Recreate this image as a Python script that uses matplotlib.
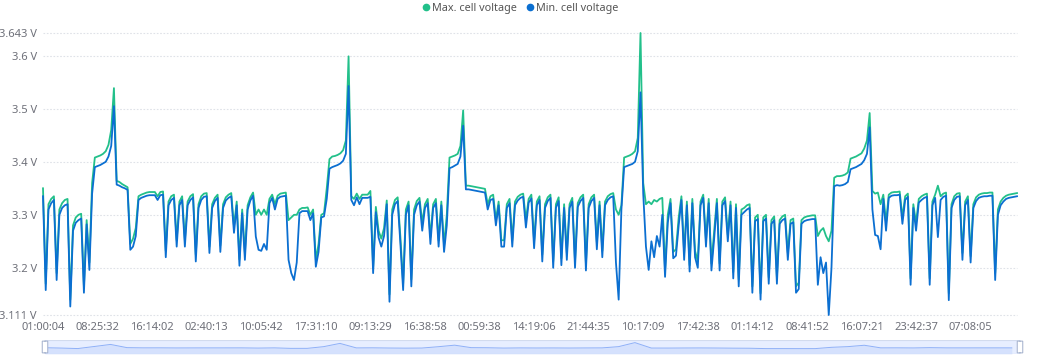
import numpy as np
import matplotlib
matplotlib.use('Agg')
import matplotlib.pyplot as plt
from matplotlib.lines import Line2D
from matplotlib.patches import Rectangle, FancyBboxPatch

# x轴时间标签（每20个采样点一个）
time_labels = ['01:00:04', '08:25:32', '16:14:02', '02:40:13', '10:05:42', '17:31:10',
               '09:13:29', '16:38:58', '00:59:38', '14:19:06', '21:44:35', '10:17:09',
               '17:42:38', '01:14:12', '08:41:52', '16:07:21', '23:42:37', '07:08:05']
label_step = 20

# 最高单体电压 (V)
max_cell_v = [
    3.350, 3.170, 3.320, 3.330, 3.335, 3.190, 3.310, 3.322, 3.328, 3.330,
    3.140, 3.280, 3.295, 3.300, 3.302, 3.165, 3.290, 3.210, 3.360, 3.408,
    3.410, 3.412, 3.415, 3.420, 3.432, 3.460, 3.539, 3.364, 3.362, 3.358,
    3.355, 3.352, 3.245, 3.255, 3.275, 3.335, 3.338, 3.340, 3.342, 3.343,
    3.343, 3.343, 3.335, 3.343, 3.344, 3.232, 3.325, 3.335, 3.338, 3.252,
    3.325, 3.335, 3.252, 3.325, 3.335, 3.339, 3.225, 3.320, 3.335, 3.340,
    3.341, 3.240, 3.320, 3.332, 3.338, 3.242, 3.320, 3.333, 3.338, 3.341,
    3.278, 3.325, 3.216, 3.310, 3.228, 3.318, 3.333, 3.342, 3.300, 3.310,
    3.300, 3.310, 3.300, 3.330, 3.338, 3.320, 3.336, 3.340, 3.341, 3.342,
    3.290, 3.295, 3.300, 3.300, 3.310, 3.313, 3.313, 3.314, 3.300, 3.310,
    3.215, 3.245, 3.300, 3.303, 3.350, 3.405, 3.410, 3.411, 3.413, 3.416,
    3.422, 3.440, 3.599, 3.335, 3.330, 3.340, 3.330, 3.338, 3.338, 3.338,
    3.345, 3.200, 3.315, 3.270, 3.255, 3.275, 3.327, 3.150, 3.310, 3.328,
    3.333, 3.258, 3.170, 3.310, 3.325, 3.178, 3.310, 3.326, 3.332, 3.285,
    3.320, 3.330, 3.258, 3.320, 3.330, 3.252, 3.325, 3.242, 3.300, 3.408,
    3.410, 3.412, 3.415, 3.430, 3.497, 3.355, 3.355, 3.354, 3.353, 3.352,
    3.351, 3.350, 3.349, 3.320, 3.335, 3.338, 3.290, 3.325, 3.252, 3.252,
    3.320, 3.330, 3.252, 3.325, 3.334, 3.338, 3.340, 3.290, 3.330, 3.338,
    3.250, 3.325, 3.335, 3.225, 3.320, 3.333, 3.338, 3.212, 3.320, 3.333,
    3.218, 3.320, 3.228, 3.320, 3.332, 3.212, 3.322, 3.333, 3.338, 3.208,
    3.320, 3.333, 3.338, 3.248, 3.325, 3.232, 3.325, 3.335, 3.339, 3.341,
    3.310, 3.300, 3.318, 3.408, 3.410, 3.412, 3.415, 3.420, 3.445, 3.643,
    3.360, 3.320, 3.325, 3.320, 3.328, 3.325, 3.330, 3.332, 3.195, 3.300,
    3.330, 3.230, 3.235, 3.295, 3.335, 3.228, 3.325, 3.205, 3.330, 3.232,
    3.212, 3.325, 3.338, 3.252, 3.330, 3.208, 3.268, 3.330, 3.208, 3.325,
    3.333, 3.262, 3.325, 3.192, 3.320, 3.178, 3.310, 3.313, 3.318, 3.320,
    3.165, 3.295, 3.300, 3.152, 3.295, 3.300, 3.182, 3.290, 3.297, 3.182,
    3.290, 3.297, 3.300, 3.228, 3.290, 3.293, 3.165, 3.172, 3.290, 3.295,
    3.297, 3.298, 3.299, 3.299, 3.260, 3.270, 3.275, 3.260, 3.250, 3.270,
    3.370, 3.373, 3.373, 3.374, 3.376, 3.380, 3.406, 3.408, 3.410, 3.413,
    3.416, 3.425, 3.440, 3.492, 3.345, 3.340, 3.342, 3.320, 3.338, 3.285,
    3.338, 3.342, 3.343, 3.343, 3.344, 3.295, 3.335, 3.340, 3.180, 3.320,
    3.285, 3.330, 3.335, 3.338, 3.340, 3.180, 3.325, 3.338, 3.355, 3.335,
    3.340, 3.342, 3.152, 3.320, 3.335, 3.340, 3.341, 3.228, 3.325, 3.335,
    3.222, 3.320, 3.333, 3.338, 3.340, 3.341, 3.341, 3.342, 3.342, 3.190,
    3.310, 3.325, 3.332, 3.336, 3.338, 3.339, 3.340, 3.341,
]

# 最低单体电压 (V)
min_cell_v = [
    3.335, 3.158, 3.310, 3.322, 3.328, 3.177, 3.300, 3.313, 3.318, 3.320,
    3.127, 3.270, 3.285, 3.290, 3.293, 3.153, 3.282, 3.196, 3.340, 3.390,
    3.392, 3.394, 3.397, 3.400, 3.410, 3.430, 3.505, 3.357, 3.355, 3.352,
    3.350, 3.347, 3.234, 3.240, 3.260, 3.328, 3.332, 3.334, 3.336, 3.337,
    3.337, 3.337, 3.328, 3.337, 3.338, 3.220, 3.318, 3.328, 3.332, 3.240,
    3.318, 3.328, 3.240, 3.318, 3.328, 3.333, 3.212, 3.313, 3.328, 3.334,
    3.335, 3.228, 3.313, 3.326, 3.332, 3.230, 3.313, 3.327, 3.332, 3.335,
    3.266, 3.318, 3.204, 3.303, 3.215, 3.310, 3.327, 3.336, 3.259, 3.234,
    3.232, 3.245, 3.234, 3.322, 3.332, 3.310, 3.330, 3.334, 3.335, 3.336,
    3.215, 3.190, 3.177, 3.210, 3.303, 3.307, 3.307, 3.307, 3.290, 3.303,
    3.202, 3.230, 3.295, 3.297, 3.330, 3.387, 3.390, 3.392, 3.394, 3.397,
    3.402, 3.415, 3.543, 3.328, 3.318, 3.333, 3.320, 3.332, 3.332, 3.332,
    3.334, 3.190, 3.305, 3.257, 3.240, 3.260, 3.320, 3.136, 3.300, 3.320,
    3.326, 3.245, 3.158, 3.300, 3.318, 3.165, 3.300, 3.318, 3.325, 3.270,
    3.313, 3.322, 3.245, 3.313, 3.322, 3.240, 3.318, 3.230, 3.280, 3.388,
    3.390, 3.393, 3.396, 3.410, 3.468, 3.348, 3.348, 3.347, 3.346, 3.345,
    3.344, 3.343, 3.342, 3.310, 3.328, 3.330, 3.280, 3.318, 3.240, 3.240,
    3.313, 3.322, 3.240, 3.318, 3.327, 3.332, 3.334, 3.276, 3.323, 3.331,
    3.237, 3.318, 3.328, 3.212, 3.313, 3.326, 3.332, 3.200, 3.313, 3.326,
    3.205, 3.313, 3.215, 3.313, 3.325, 3.200, 3.315, 3.326, 3.332, 3.195,
    3.313, 3.326, 3.332, 3.235, 3.318, 3.220, 3.318, 3.328, 3.333, 3.335,
    3.210, 3.140, 3.310, 3.390, 3.392, 3.394, 3.396, 3.400, 3.420, 3.531,
    3.340, 3.240, 3.196, 3.250, 3.220, 3.260, 3.240, 3.300, 3.183, 3.285,
    3.322, 3.218, 3.223, 3.280, 3.328, 3.215, 3.318, 3.193, 3.322, 3.220,
    3.200, 3.318, 3.332, 3.240, 3.322, 3.195, 3.255, 3.322, 3.195, 3.318,
    3.326, 3.250, 3.318, 3.180, 3.313, 3.165, 3.300, 3.305, 3.310, 3.313,
    3.153, 3.288, 3.292, 3.140, 3.288, 3.293, 3.170, 3.283, 3.290, 3.170,
    3.283, 3.290, 3.293, 3.215, 3.283, 3.286, 3.153, 3.160, 3.283, 3.288,
    3.290, 3.291, 3.292, 3.292, 3.168, 3.220, 3.190, 3.210, 3.111, 3.200,
    3.354, 3.356, 3.355, 3.356, 3.358, 3.362, 3.386, 3.388, 3.390, 3.393,
    3.396, 3.403, 3.415, 3.465, 3.310, 3.262, 3.260, 3.235, 3.330, 3.270,
    3.332, 3.336, 3.337, 3.337, 3.338, 3.283, 3.328, 3.334, 3.168, 3.313,
    3.270, 3.323, 3.328, 3.332, 3.334, 3.168, 3.318, 3.332, 3.258, 3.328,
    3.334, 3.336, 3.139, 3.313, 3.328, 3.334, 3.335, 3.215, 3.318, 3.328,
    3.210, 3.313, 3.326, 3.332, 3.334, 3.335, 3.335, 3.336, 3.336, 3.177,
    3.300, 3.318, 3.325, 3.330, 3.332, 3.333, 3.334, 3.335,
]

GREEN = '#22c08a'
BLUE = '#0b6fd1'
TXT = '#6e7079'
GRID = '#dfe2e8'

plt.rcParams['font.family'] = ['Noto Sans', 'DejaVu Sans']

W, H = 1050, 359
fig = plt.figure(figsize=(W / 100, H / 100), dpi=100)

# 主图
ax = fig.add_axes([43 / W, 1 - 315 / H, 974 / W, 282 / H])
x = np.arange(len(max_cell_v))
lo, hi = min(min_cell_v), max(max_cell_v)
yt = [lo, 3.2, 3.3, 3.4, 3.5, 3.6, hi]
for v in yt:
    ax.axhline(v, color=GRID, lw=0.8, ls=(0, (1.5, 1.5)), clip_on=False, zorder=0)
ax.plot(x, max_cell_v, color=GREEN, lw=1.3, clip_on=False, zorder=2)
ax.plot(x, min_cell_v, color=BLUE, lw=1.3, clip_on=False, zorder=3)
ax.set_xlim(0, len(x) - 1)
ax.set_ylim(lo, hi)
ax.set_yticks(yt)
ax.set_yticklabels([f'{v:g} V' for v in yt])
ax.set_xticks(np.arange(len(time_labels)) * label_step)
ax.set_xticklabels(time_labels)
for s in ax.spines.values():
    s.set_visible(False)
ax.tick_params(axis='both', length=0, labelsize=8, labelcolor=TXT)
ax.tick_params(axis='y', pad=4.5)
ax.tick_params(axis='x', pad=5)

# 图例
handles = [Line2D([], [], ls='none', marker='o', ms=4.5, color=GREEN),
           Line2D([], [], ls='none', marker='o', ms=4.5, color=BLUE)]
fig.legend(handles, ['Max. cell voltage', 'Min. cell voltage'], loc='center',
           bbox_to_anchor=(521 / W, 1 - 8.5 / H), ncol=2, frameon=False, fontsize=7.8,
           handlelength=0.5, handletextpad=0.35, columnspacing=0.9, labelcolor='#555555')

# 底部缩放条（数据阴影取第一个系列）
sx = fig.add_axes([45 / W, 1 - 354 / H, 975 / W, 14 / H])
vals = np.array(max_cell_v)
s_lo, s_hi = vals.min(), vals.max()
pad = (s_hi - s_lo) * 0.3
sx.set_xlim(0, 1)
sx.set_ylim(s_lo - pad, s_hi + pad)
sx.axis('off')
sx.add_patch(Rectangle((0, 0), 1, 1, transform=sx.transAxes, facecolor='#e7eeff',
                       edgecolor='#d2dbee', lw=0.8, zorder=0))
starts = np.arange(0, len(vals), 6)
shadow = np.maximum.reduceat(vals, starts)
sxx = starts / (len(vals) - 1)
sx.fill_between(sxx, s_lo - pad, shadow, color='#8fb0f7', alpha=0.2, lw=0, zorder=1)
sx.plot(sxx, shadow, color='#8fb0f7', lw=0.7, zorder=2)
for hx in (0, 1):
    sx.add_patch(FancyBboxPatch((hx - 0.0028, 0.08), 0.0056, 0.84, transform=sx.transAxes,
                                boxstyle='round,pad=0,rounding_size=0.003', facecolor='white',
                                edgecolor='#acb8d1', lw=0.8, clip_on=False, zorder=3))

fig.savefig('out.png', dpi=100, facecolor='white')
